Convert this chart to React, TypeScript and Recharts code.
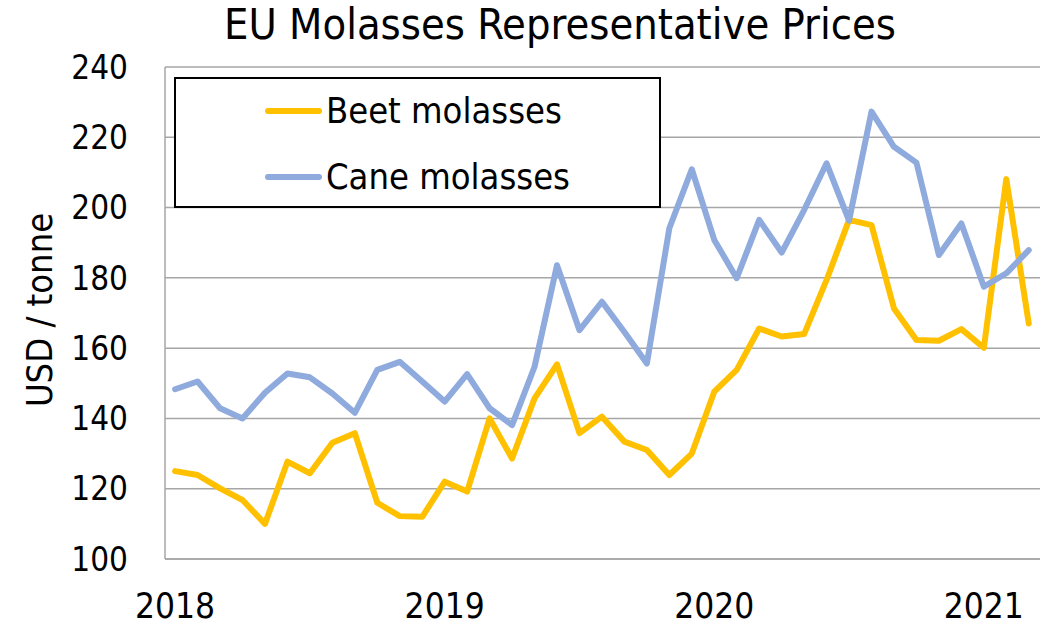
import React from 'react';
import { LineChart, Line, XAxis, YAxis, CartesianGrid } from 'recharts';

const months: number[] = Array.from({ length: 39 }, (_, i) => i);

const beetMolasses: number[] = [
  125, 123.9, 120.1, 116.8, 110, 127.7, 124.4, 133.1, 135.8, 116, 112.2, 112,
  122, 119.2, 140, 128.6, 145.7, 155.4, 135.8, 140.5, 133.4, 131, 123.9, 130,
  147.6, 153.8, 165.6, 163.3, 164, 179.4, 196.5, 195, 171.3, 162.3, 162.1, 165.4,
  160.1, 208.1, 167,
];

const caneMolasses: number[] = [
  148.3, 150.5, 142.9, 140, 147.3, 152.8, 151.7, 147.1, 141.6, 153.8, 156.1, 150.5,
  144.8, 152.6, 142.9, 138.1, 154.7, 183.6, 165.1, 173.2, 164.6, 155.6, 194.1, 210.9,
  190.8, 179.9, 196.5, 187.2, 199.3, 212.6, 196.3, 227.3, 217.3, 212.8, 186.5, 195.5,
  177.5, 181.3, 187.9,
];

const yearLabels: string[] = ['2018', '2019', '2020', '2021'];
const yearTickPositions: number[] = [0, 12, 24, 36];
const yTicks: number[] = [100, 120, 140, 160, 180, 200, 220, 240];
const seriesNames: string[] = ['Beet molasses', 'Cane molasses'];
const seriesColors: string[] = ['#FFC000', '#8FAADC'];

const chartTitle = 'EU Molasses Representative Prices';
const yAxisTitle = 'USD / tonne';

const data = months.map((m, i) => ({
  i: m,
  beet: beetMolasses[i],
  cane: caneMolasses[i],
}));

const FONT = "'DejaVu Sans Condensed', 'DejaVu Sans', sans-serif";

export default function App() {
  return (
    <div
      style={{
        position: 'absolute',
        left: 0,
        top: 0,
        width: 1042,
        height: 630,
        background: '#ffffff',
        fontFamily: FONT,
        color: '#000',
      }}
    >
      <LineChart
        width={1042}
        height={630}
        data={data}
        margin={{ top: 67, right: 2, bottom: 0, left: 0 }}
      >
        <CartesianGrid vertical={false} stroke="#A6A6A6" strokeWidth={1.5} />
        <XAxis
          dataKey="i"
          type="number"
          domain={[-0.45, 38.5]}
          ticks={yearTickPositions}
          tickFormatter={(v: number) => yearLabels[yearTickPositions.indexOf(v)] ?? ''}
          height={71}
          tickLine={false}
          tickSize={0}
          tickMargin={34}
          axisLine={{ stroke: '#A6A6A6', strokeWidth: 1.5 }}
          tick={{ fill: '#000', fontSize: 35, fontFamily: FONT }}
          allowDataOverflow
        />
        <YAxis
          type="number"
          domain={[100, 240]}
          ticks={yTicks}
          width={165}
          tickLine={false}
          tickSize={0}
          tickMargin={37}
          axisLine={{ stroke: '#A6A6A6', strokeWidth: 1.5 }}
          tick={{ fill: '#000', fontSize: 33, fontFamily: FONT }}
          interval={0}
        />
        <Line
          type="linear"
          dataKey="beet"
          name={seriesNames[0]}
          stroke={seriesColors[0]}
          strokeWidth={6}
          strokeLinejoin="round"
          strokeLinecap="round"
          dot={false}
          isAnimationActive={false}
        />
        <Line
          type="linear"
          dataKey="cane"
          name={seriesNames[1]}
          stroke={seriesColors[1]}
          strokeWidth={6}
          strokeLinejoin="round"
          strokeLinecap="round"
          dot={false}
          isAnimationActive={false}
        />
      </LineChart>

      <div
        style={{
          position: 'absolute',
          left: 560,
          top: 3,
          transform: 'translateX(-50%)',
          fontSize: 43,
          lineHeight: 1,
          whiteSpace: 'nowrap',
        }}
      >
        {chartTitle}
      </div>

      <div
        style={{
          position: 'absolute',
          left: 40,
          top: 310,
          transform: 'translate(-50%, -50%) rotate(-90deg)',
          fontSize: 36,
          lineHeight: 1,
          whiteSpace: 'nowrap',
        }}
      >
        {yAxisTitle}
      </div>

      <div
        style={{
          position: 'absolute',
          left: 174,
          top: 77,
          width: 487,
          height: 131,
          boxSizing: 'border-box',
          border: '2px solid #000',
          background: '#fff',
        }}
      >
        {seriesNames.map((name, k) => (
          <div
            key={name}
            style={{
              position: 'absolute',
              left: 89,
              top: k === 0 ? 14 : 80,
              height: 36,
              display: 'flex',
              alignItems: 'center',
              whiteSpace: 'nowrap',
            }}
          >
            <div
              style={{
                width: 57,
                height: 6,
                borderRadius: 3,
                background: seriesColors[k],
                marginRight: 4,
              }}
            />
            <span style={{ fontSize: 36, lineHeight: 1 }}>{name}</span>
          </div>
        ))}
      </div>
    </div>
  );
}
